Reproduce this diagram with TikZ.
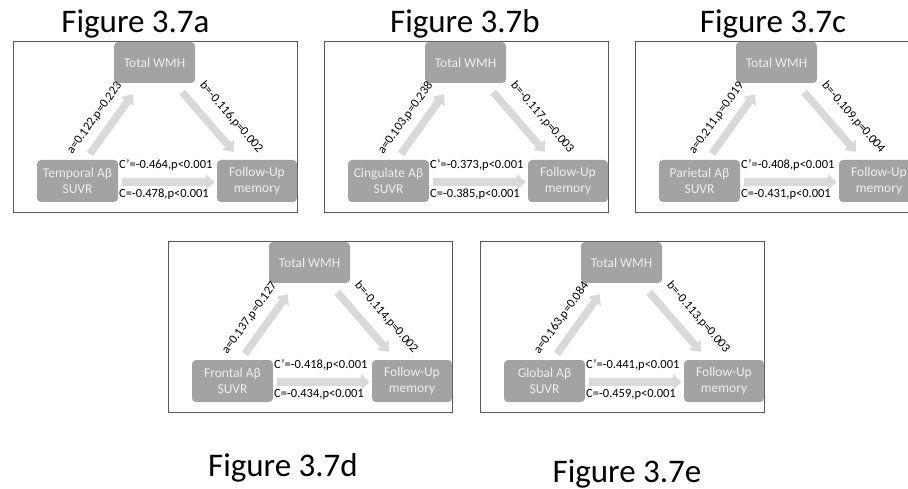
\documentclass[tikz,border=0pt]{standalone}
\usepackage{fontspec}
\setmainfont{Carlito}
\usetikzlibrary{arrows.meta}
\definecolor{boxgray}{HTML}{A3A3A3}
\definecolor{boxtext}{HTML}{EEEEEE}
\definecolor{arrowgray}{HTML}{D9D9D9}
\definecolor{framegray}{HTML}{595959}
\tikzset{
  wmhbox/.style={fill=boxgray, rounded corners=4pt, text=boxtext,
    font=\fontsize{13.5}{15.5}\selectfont, align=center, inner sep=0pt},
  bigarrow/.style={draw=arrowgray, line width=7.5pt, -{Triangle[width=15pt,length=9pt]}},
  pathlabel/.style={font=\fontsize{12.5}{14}\selectfont, inner sep=0.5pt, text=black},
  clabel/.style={font=\fontsize{12.5}{14}\selectfont, inner sep=0pt, anchor=west, text=black},
  paneltitle/.style={font=\fontsize{33}{38}\selectfont, anchor=base, inner sep=0pt},
  panelframe/.style={draw=framegray, line width=0.8pt, inner sep=0pt,
    minimum width=284pt, minimum height=171pt, anchor=north west},
}
\newcommand\mediationpanel[8]{%
  \begin{scope}[shift={(#2,#3)}]
    \node[panelframe] (#1-frame) at (0,0) {};
    \node[wmhbox, minimum width=81pt, minimum height=41pt] (#1-top) at (141.5,21.5) {Total WMH};
    \node[wmhbox, minimum width=81pt, minimum height=42pt] (#1-left) at (64.5,140) {#4\\SUVR};
    \node[wmhbox, minimum width=80pt, minimum height=42pt] (#1-right) at (244,140) {Follow-Up\\memory};
    \draw[bigarrow] ([shift={(12.5,-6)}]#1-left.north) --
      node[pathlabel, sloped, above=7.5pt, pos=0.43] (#1-alab) {#5}
      ([shift={(19,11)}]#1-top.south west);
    \draw[bigarrow] ([shift={(-13,9)}]#1-top.south east) --
      node[pathlabel, sloped, above=11pt, pos=0.65] (#1-blab) {#6}
      ([shift={(17,-8)}]#1-right.north west);
    \draw[bigarrow] ([shift={(4,1)}]#1-left.east) -- ([shift={(-2,1)}]#1-right.west);
    \node[clabel] (#1-cp) at (106,124) {#7};
    \node[clabel] (#1-c) at (106,153) {#8};
  \end{scope}}
\begin{document}
\begin{tikzpicture}[x=1pt, y=-1pt]
  \useasboundingbox (0,0) rectangle (908,489);
  \clip (0,0) rectangle (908,489);
  \fill[white] (0,0) rectangle (908,489);
  \mediationpanel{pa}{13}{41}{Temporal Aβ}{a=0.122,p=0.223}{b=-0.116,p=0.002}{C’=-0.464,p<0.001}{C=-0.478,p<0.001}
  \mediationpanel{pb}{324}{41}{Cingulate Aβ}{a=0.103,p=0.238}{b=-0.117,p=0.003}{C’=-0.373,p<0.001}{C=-0.385,p<0.001}
  \mediationpanel{pc}{635}{41}{Parietal Aβ}{a=0.211,p=0.019}{b=-0.109,p=0.004}{C’=-0.408,p<0.001}{C=-0.431,p<0.001}
  \mediationpanel{pd}{168}{241}{Frontal Aβ}{a=0.137,p=0.127}{b=-0.114,p=0.002}{C’=-0.418,p<0.001}{C=-0.434,p<0.001}
  \mediationpanel{pe}{480}{241}{Global Aβ}{a=0.163,p=0.084}{b=-0.113,p=0.003}{C’=-0.441,p<0.001}{C=-0.459,p<0.001}
  \node[paneltitle] (ta) at (135.5,33) {Figure 3.7a};
  \node[paneltitle] (tb) at (465,33) {Figure 3.7b};
  \node[paneltitle] (tc) at (773,33) {Figure 3.7c};
  \node[paneltitle] (td) at (283,476) {Figure 3.7d};
  \node[paneltitle] (te) at (627,482) {Figure 3.7e};
\end{tikzpicture}
\end{document}
